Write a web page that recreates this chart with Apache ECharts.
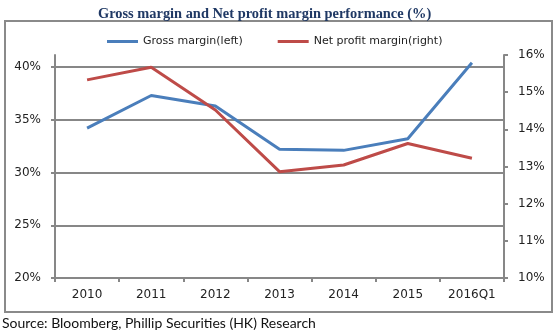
<!DOCTYPE html>
<html>
<head>
<meta charset="utf-8">
<script src="https://cdn.jsdelivr.net/npm/echarts@6/dist/echarts.min.js"></script>
<style>
html,body{margin:0;padding:0;background:#fff;}
#chart{width:560px;height:335px;}
</style>
</head>
<body>
<div id="chart"></div>
<script>
var categories = ['2010', '2011', '2012', '2013', '2014', '2015', '2016Q1'];
var grossMargin = [34.2, 37.3, 36.3, 32.2, 32.1, 33.2, 40.4];
var netProfitMargin = [15.33, 15.67, 14.52, 12.86, 13.04, 13.62, 13.22];
var leftTicks = [20, 25, 30, 35, 40];
var rightTicks = [10, 11, 12, 13, 14, 15, 16];
var seriesNames = ['Gross margin(left)', 'Net profit margin(right)'];

var gray = '#878787';
var chart = echarts.init(document.getElementById('chart'));
chart.setOption({
  animation: false,
  backgroundColor: '#fff',
  title: {
    text: 'Gross margin and Net profit margin performance (%)',
    left: 93,
    top: 2,
    textStyle: {
      fontFamily: 'Liberation Serif',
      fontWeight: 'bold',
      fontSize: 14.4,
      color: '#1F3864'
    }
  },
  legend: {
    data: seriesNames,
    top: 31,
    left: 102,
    icon: 'rect',
    itemWidth: 31,
    itemHeight: 3,
    itemGap: 35,
    itemTextGap: 3,
    textStyle: { fontFamily: 'DejaVu Sans', fontSize: 11, color: '#222' }
  },
  grid: { left: 55, right: 56, top: 55, bottom: 57, containLabel: false },
  xAxis: {
    type: 'category',
    data: categories,
    boundaryGap: true,
    axisLine: { lineStyle: { color: gray, width: 2 } },
    axisTick: { show: true, length: 4, lineStyle: { color: gray, width: 2 } },
    axisLabel: { fontFamily: 'DejaVu Sans', fontSize: 12, color: '#222', margin: 11 }
  },
  yAxis: [
    {
      type: 'value',
      position: 'left',
      min: leftTicks[0],
      max: 41.14,
      interval: 5,
      axisLine: { show: true, lineStyle: { color: gray, width: 2 } },
      axisTick: { show: true, length: 4, customValues: leftTicks, lineStyle: { color: gray, width: 2 } },
      splitLine: { show: true, lineStyle: { color: gray, width: 2 } },
      axisLabel: {
        customValues: leftTicks,
        fontFamily: 'DejaVu Sans', fontSize: 12, color: '#222', margin: 14,
        formatter: function (v) { return v + '%'; }
      }
    },
    {
      type: 'value',
      position: 'right',
      min: rightTicks[0],
      max: rightTicks[rightTicks.length - 1],
      interval: 1,
      axisLine: { show: true, lineStyle: { color: gray, width: 2 } },
      axisTick: { show: true, length: 4, lineStyle: { color: gray, width: 2 } },
      splitLine: { show: false },
      axisLabel: {
        fontFamily: 'DejaVu Sans', fontSize: 12, color: '#222', margin: 14,
        formatter: function (v) { return v + '%'; }
      }
    }
  ],
  series: [
    {
      name: seriesNames[0],
      type: 'line',
      yAxisIndex: 0,
      data: grossMargin,
      symbol: 'none',
      lineStyle: { color: '#4A7EBB', width: 3 },
      itemStyle: { color: '#4A7EBB' }
    },
    {
      name: seriesNames[1],
      type: 'line',
      yAxisIndex: 1,
      data: netProfitMargin,
      symbol: 'none',
      lineStyle: { color: '#BE4B48', width: 3 },
      itemStyle: { color: '#BE4B48' }
    }
  ],
  graphic: [
    {
      type: 'rect',
      shape: { x: 5, y: 21, width: 547, height: 291 },
      style: { fill: 'none', stroke: '#8a8a8a', lineWidth: 2 },
      silent: true,
      z: -1
    },
    {
      type: 'text',
      left: 2,
      top: 316,
      style: {
        text: 'Source: Bloomberg, Phillip Securities (HK) Research',
        fontFamily: 'Lato',
        fontSize: 14,
        fill: '#111'
      }
    }
  ]
});
</script>
</body>
</html>
